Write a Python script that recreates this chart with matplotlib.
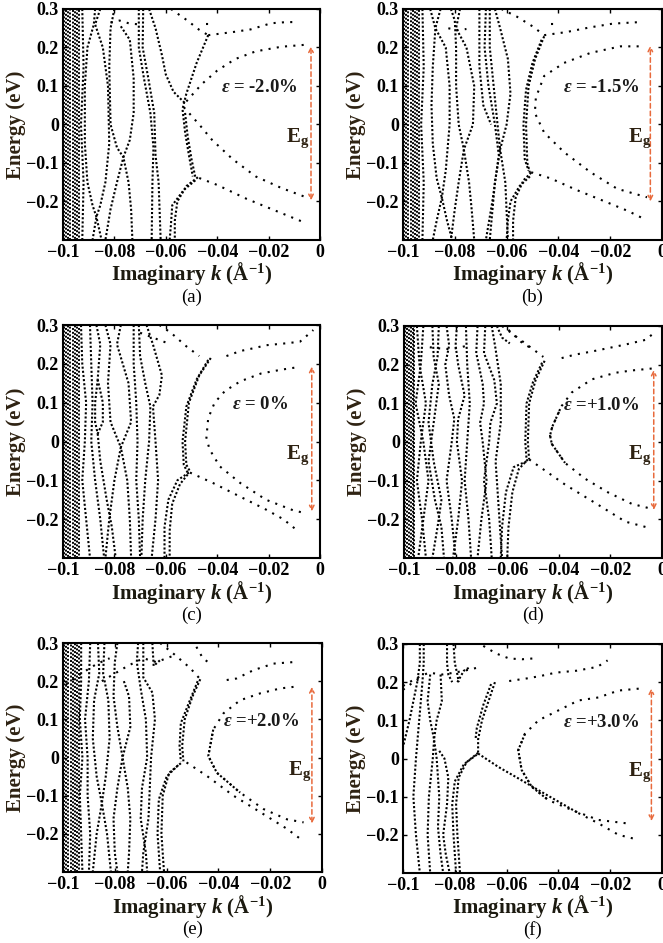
import matplotlib
matplotlib.use("Agg")
import matplotlib.pyplot as plt

plt.rcParams['font.family'] = ['Liberation Serif', 'DejaVu Serif']
plt.rcParams['mathtext.fontset'] = 'custom'
plt.rcParams['mathtext.rm'] = 'Liberation Serif:bold'
plt.rcParams['mathtext.it'] = 'Liberation Serif:italic:bold'
plt.rcParams['mathtext.bf'] = 'Liberation Serif:bold'

# ---------------- data (Imaginary k in 1/A, Energy in eV) ----------------
letters = ['(a)', '(b)', '(c)', '(d)', '(e)', '(f)']
strains = [r'$\varepsilon$ = -2.0%', r'$\varepsilon$ = -1.5%', r'$\varepsilon$ = 0%',
           r'$\varepsilon$ =+1.0%', r'$\varepsilon$ =+2.0%', r'$\varepsilon$ =+3.0%']
eg_k = [-0.0035, -0.0045, -0.0032, -0.0032, -0.0039, -0.0041]
eg_top = [0.203, 0.205, 0.193, 0.187, 0.185, 0.184]
eg_bottom = [-0.197, -0.200, -0.180, -0.176, -0.173, -0.164]

xticks = [-0.1, -0.08, -0.06, -0.04, -0.02, 0]
xticklabels = ['\u22120.1', '\u22120.08', '\u22120.06', '\u22120.04', '\u22120.02', '0']
yticks = [-0.2, -0.1, 0, 0.1, 0.2, 0.3]
yticklabels = ['\u22120.2', '\u22120.1', '0', '0.1', '0.2', '0.3']

# (a) eps = -2.0%
a_block = [-0.0995, -0.0987, -0.0979, -0.0971, -0.0963, -0.0955, -0.0947, -0.0939]
a_dense = [
    [(-0.0875, 0.3), (-0.088, 0.26), (-0.0905, 0.2), (-0.0915, 0.1), (-0.0915, -0.05), (-0.0905, -0.15), (-0.0885, -0.21), (-0.087, -0.24), (-0.085, -0.3)],
    [(-0.0855, 0.3), (-0.0875, 0.26), (-0.0845, 0.2), (-0.0825, 0.1), (-0.082, -0.05), (-0.0835, -0.15), (-0.0855, -0.21), (-0.087, -0.24), (-0.0885, -0.3)],
    [(-0.080, 0.3), (-0.0815, 0.25), (-0.082, 0.15), (-0.0815, 0.0), (-0.079, -0.06), (-0.0765, -0.085), (-0.079, -0.15), (-0.0815, -0.22), (-0.0835, -0.3)],
    [(-0.0775, 0.255), (-0.074, 0.22), (-0.0725, 0.12), (-0.0725, 0.03), (-0.074, -0.04), (-0.0765, -0.085), (-0.0745, -0.15), (-0.0735, -0.22), (-0.073, -0.3)],
    [(-0.0705, 0.3), (-0.0705, 0.2), (-0.0685, 0.12), (-0.066, 0.03), (-0.0648, -0.06), (-0.0652, -0.15), (-0.0655, -0.3)],
    [(-0.0688, 0.3), (-0.069, 0.2), (-0.0668, 0.12), (-0.0645, 0.03), (-0.064, -0.08), (-0.0628, -0.15), (-0.062, -0.3)],
    [(-0.0665, 0.3), (-0.064, 0.25), (-0.0615, 0.18), (-0.060, 0.13), (-0.057, 0.085), (-0.0525, 0.055)],
    [(-0.0435, 0.232), (-0.048, 0.16), (-0.052, 0.08), (-0.0535, 0.04), (-0.0525, -0.02), (-0.051, -0.08), (-0.0495, -0.135)],
    [(-0.0525, 0.03), (-0.0515, -0.03), (-0.050, -0.09), (-0.0485, -0.137)],
    [(-0.0475, -0.137), (-0.052, -0.16), (-0.0555, -0.2), (-0.0565, -0.25), (-0.0565, -0.3)],
    [(-0.0485, -0.145), (-0.053, -0.17), (-0.0575, -0.21), (-0.058, -0.26), (-0.0585, -0.3)],
    [(-0.0925, 0.3), (-0.092, 0.15), (-0.093, 0.0), (-0.092, -0.15), (-0.0925, -0.3)],
]
a_sparse = [
    [(-0.052, 0.06), (-0.046, 0.105), (-0.040, 0.14), (-0.033, 0.17), (-0.025, 0.19), (-0.015, 0.202), (-0.004, 0.208)],
    [(-0.053, 0.045), (-0.047, 0.0), (-0.042, -0.04), (-0.034, -0.09), (-0.025, -0.135), (-0.015, -0.165), (-0.005, -0.19)],
    [(-0.047, -0.139), (-0.040, -0.157), (-0.0286, -0.193), (-0.018, -0.222), (-0.007, -0.252)],
    [(-0.058, 0.3), (-0.052, 0.272), (-0.047, 0.246), (-0.0435, 0.232)],
    [(-0.0435, 0.232), (-0.034, 0.24), (-0.027, 0.247), (-0.019, 0.263), (-0.013, 0.266), (-0.009, 0.266)],
    [(-0.0815, 0.265), (-0.078, 0.27), (-0.074, 0.262), (-0.070, 0.26)],
    [(-0.0445, 0.262), (-0.0415, 0.262)],
]

# (b) eps = -1.5%
b_block = [-0.0995, -0.0987, -0.0979, -0.0971, -0.0963, -0.0955, -0.0947, -0.0939]
b_dense = [
    [(-0.0895, 0.3), (-0.0875, 0.25), (-0.0885, 0.15), (-0.089, 0.05), (-0.0885, -0.05), (-0.087, -0.14), (-0.085, -0.19), (-0.083, -0.25), (-0.081, -0.3)],
    [(-0.0855, 0.3), (-0.0875, 0.25), (-0.0835, 0.2), (-0.082, 0.1), (-0.082, 0.0), (-0.0835, -0.12), (-0.085, -0.19), (-0.087, -0.25), (-0.0885, -0.3)],
    [(-0.0815, 0.3), (-0.080, 0.27), (-0.0795, 0.2), (-0.0795, 0.1), (-0.0785, 0.0), (-0.0765, -0.065), (-0.0785, -0.15), (-0.080, -0.22), (-0.0815, -0.3)],
    [(-0.078, 0.3), (-0.0795, 0.25), (-0.0755, 0.2), (-0.0725, 0.1), (-0.073, 0.0), (-0.0765, -0.065), (-0.0745, -0.15), (-0.0735, -0.22), (-0.0725, -0.3)],
    [(-0.0705, 0.3), (-0.0705, 0.15), (-0.069, 0.05), (-0.066, 0.0)],
    [(-0.0665, 0.3), (-0.0665, 0.2), (-0.065, 0.1), (-0.0635, 0.0), (-0.0625, -0.065), (-0.0645, -0.15), (-0.0665, -0.3)],
    [(-0.0645, 0.3), (-0.0625, 0.25), (-0.0595, 0.17), (-0.0585, 0.08), (-0.060, 0.0), (-0.0625, -0.065), (-0.0605, -0.15), (-0.0595, -0.3)],
    [(-0.068, 0.3), (-0.0685, 0.2), (-0.067, 0.1), (-0.0645, 0.0), (-0.063, -0.08), (-0.0655, -0.2), (-0.068, -0.3)],
    [(-0.0455, 0.229), (-0.049, 0.17), (-0.0515, 0.1), (-0.0525, 0.0), (-0.052, -0.1), (-0.051, -0.125)],
    [(-0.0465, 0.22), (-0.050, 0.16), (-0.0525, 0.09), (-0.0535, 0.0), (-0.053, -0.09), (-0.0515, -0.12)],
    [(-0.0505, -0.125), (-0.0535, -0.145), (-0.0565, -0.19), (-0.0575, -0.25), (-0.0575, -0.3)],
    [(-0.051, -0.135), (-0.055, -0.16), (-0.0585, -0.2), (-0.0595, -0.25), (-0.060, -0.3)],
    [(-0.0925, 0.3), (-0.092, 0.15), (-0.093, 0.0), (-0.092, -0.15), (-0.0925, -0.3)],
]
b_sparse = [
    [(-0.009, 0.203), (-0.016, 0.203), (-0.0276, 0.186), (-0.0378, 0.16), (-0.0455, 0.126), (-0.0487, 0.07),
     (-0.0491, 0.03), (-0.0455, -0.021), (-0.0378, -0.072), (-0.0276, -0.124), (-0.0173, -0.167), (-0.0058, -0.189)],
    [(-0.0505, -0.124), (-0.043, -0.14), (-0.033, -0.17), (-0.022, -0.2), (-0.013, -0.225), (-0.007, -0.245)],
    [(-0.062, 0.3), (-0.056, 0.28), (-0.050, 0.255), (-0.0455, 0.232)],
    [(-0.0455, 0.232), (-0.037, 0.24), (-0.028, 0.252), (-0.019, 0.262), (-0.0085, 0.266)],
    [(-0.0825, 0.25), (-0.079, 0.245), (-0.0755, 0.248)],
    [(-0.043, 0.262), (-0.041, 0.262)],
]

# (c) eps = 0%
c_block = [-0.0995, -0.0987, -0.0979, -0.0971, -0.0963, -0.0955, -0.0947, -0.0939]
c_dense = [
    [(-0.093, 0.3), (-0.0925, 0.2), (-0.091, 0.1), (-0.0915, 0.0), (-0.0925, -0.1), (-0.091, -0.2), (-0.0895, -0.3)],
    [(-0.0895, 0.3), (-0.089, 0.2), (-0.0885, 0.1), (-0.089, 0.0), (-0.0875, -0.1), (-0.0855, -0.2), (-0.084, -0.3)],
    [(-0.0865, 0.16), (-0.0875, 0.1), (-0.0875, 0.05), (-0.0865, 0.02)],
    [(-0.0865, 0.16), (-0.0845, 0.1), (-0.0845, 0.05), (-0.0865, 0.02)],
    [(-0.087, 0.3), (-0.0855, 0.25), (-0.0865, 0.16)],
    [(-0.0865, 0.02), (-0.0855, -0.05), (-0.083, -0.15), (-0.081, -0.22), (-0.0795, -0.3)],
    [(-0.0835, 0.3), (-0.0815, 0.25), (-0.0825, 0.15), (-0.0815, 0.05), (-0.0775, -0.015), (-0.080, -0.1), (-0.082, -0.2), (-0.0835, -0.3)],
    [(-0.0775, 0.3), (-0.079, 0.25), (-0.0745, 0.15), (-0.0735, 0.05), (-0.0775, -0.015), (-0.075, -0.1), (-0.074, -0.2), (-0.0735, -0.3)],
    [(-0.0725, 0.3), (-0.0725, 0.2), (-0.0715, 0.1), (-0.071, 0.0), (-0.0715, -0.1), (-0.0705, -0.2), (-0.070, -0.3)],
    [(-0.0705, 0.3), (-0.070, 0.22), (-0.068, 0.15), (-0.066, 0.09), (-0.0665, 0.0), (-0.068, -0.1), (-0.069, -0.2), (-0.0695, -0.3)],
    [(-0.0675, 0.3), (-0.065, 0.25), (-0.0615, 0.17), (-0.0625, 0.12), (-0.065, 0.09), (-0.064, 0.0), (-0.063, -0.1), (-0.064, -0.2), (-0.0655, -0.3)],
    [(-0.0425, 0.215), (-0.047, 0.17), (-0.051, 0.1), (-0.0525, 0.0), (-0.052, -0.06), (-0.0505, -0.078)],
    [(-0.0435, 0.21), (-0.048, 0.16), (-0.052, 0.09), (-0.0535, 0.0), (-0.053, -0.06), (-0.0515, -0.08)],
    [(-0.051, -0.08), (-0.0555, -0.1), (-0.059, -0.15), (-0.0605, -0.22), (-0.0605, -0.3)],
    [(-0.0515, -0.085), (-0.0545, -0.11), (-0.0575, -0.16), (-0.0585, -0.23), (-0.0585, -0.3)],
]
c_sparse = [
    [(-0.010, 0.19), (-0.015, 0.185), (-0.023, 0.175), (-0.031, 0.155), (-0.037, 0.13), (-0.041, 0.1), (-0.0435, 0.06),
     (-0.0442, 0.01), (-0.043, -0.02), (-0.039, -0.064), (-0.031, -0.107), (-0.021, -0.15), (-0.0105, -0.177), (-0.0055, -0.185)],
    [(-0.0506, -0.08), (-0.0416, -0.107), (-0.0338, -0.133), (-0.0208, -0.176), (-0.0143, -0.2), (-0.0085, -0.231)],
    [(-0.0625, 0.3), (-0.058, 0.28), (-0.052, 0.245), (-0.047, 0.22)],
    [(-0.0364, 0.22), (-0.031, 0.233), (-0.026, 0.24), (-0.0208, 0.248), (-0.013, 0.253), (-0.0078, 0.257), (-0.0026, 0.287)],
    [(-0.070, 0.28), (-0.064, 0.265), (-0.058, 0.25)],
]

# (d) eps = +1.0%
d_block = [-0.0995, -0.0988, -0.0981, -0.0974, -0.0967, -0.0960]
d_dense = [
    [(-0.095, 0.3), (-0.094, 0.2), (-0.0915, 0.1), (-0.0935, 0.0), (-0.095, -0.1), (-0.093, -0.2), (-0.0915, -0.3)],
    [(-0.0925, 0.3), (-0.0935, 0.2), (-0.0955, 0.1), (-0.0925, 0.0), (-0.0905, -0.1), (-0.0925, -0.2), (-0.0945, -0.3)],
    [(-0.089, 0.3), (-0.0885, 0.22), (-0.0865, 0.15), (-0.0885, 0.05), (-0.0905, -0.05), (-0.088, -0.15), (-0.0855, -0.22), (-0.0845, -0.3)],
    [(-0.0865, 0.3), (-0.087, 0.22), (-0.089, 0.15), (-0.0905, 0.05), (-0.0885, -0.05), (-0.0855, -0.15), (-0.087, -0.22), (-0.089, -0.3)],
    [(-0.0835, 0.3), (-0.0825, 0.25), (-0.084, 0.2), (-0.0825, 0.12), (-0.0805, 0.06), (-0.0815, 0.0), (-0.0835, -0.1), (-0.0815, -0.2), (-0.080, -0.3)],
    [(-0.0795, 0.3), (-0.080, 0.25), (-0.079, 0.2), (-0.0765, 0.12), (-0.079, 0.06), (-0.0795, 0.0), (-0.0775, -0.1), (-0.079, -0.2), (-0.081, -0.3)],
    [(-0.076, 0.3), (-0.0755, 0.2), (-0.0745, 0.1), (-0.0755, 0.0), (-0.0765, -0.1), (-0.075, -0.2), (-0.074, -0.3)],
    [(-0.0715, 0.3), (-0.072, 0.23), (-0.0695, 0.15), (-0.069, 0.1), (-0.0705, 0.05), (-0.0695, 0.0), (-0.068, -0.1), (-0.070, -0.2), (-0.0715, -0.3)],
    [(-0.0685, 0.3), (-0.069, 0.23), (-0.065, 0.16), (-0.064, 0.1), (-0.0665, 0.05), (-0.067, 0.0), (-0.069, -0.1), (-0.067, -0.2), (-0.066, -0.3)],
    [(-0.066, 0.3), (-0.0645, 0.24), (-0.0625, 0.15), (-0.0625, 0.05), (-0.0645, -0.05), (-0.063, -0.2), (-0.062, -0.3)],
    [(-0.064, 0.3), (-0.062, 0.27), (-0.059, 0.255)],
    [(-0.0455, 0.21), (-0.049, 0.16), (-0.0515, 0.1), (-0.052, 0.0), (-0.0515, -0.045)],
    [(-0.0465, 0.205), (-0.050, 0.155), (-0.0525, 0.1), (-0.053, 0.0), (-0.0525, -0.045)],
    [(-0.052, -0.045), (-0.0555, -0.07), (-0.058, -0.13), (-0.0595, -0.22), (-0.060, -0.3)],
    [(-0.0525, -0.05), (-0.0575, -0.065), (-0.0605, -0.13), (-0.062, -0.22), (-0.0625, -0.3)],
    [(-0.0395, 0.085), (-0.0425, 0.04), (-0.0434, 0.017), (-0.0427, -0.005), (-0.0376, -0.054)],
]
d_sparse = [
    [(-0.004, 0.19), (-0.0117, 0.185), (-0.0181, 0.179), (-0.0272, 0.162), (-0.035, 0.128), (-0.0389, 0.093), (-0.0425, 0.04),
     (-0.0434, 0.017), (-0.0427, -0.005), (-0.0376, -0.054), (-0.0298, -0.095), (-0.021, -0.13), (-0.0117, -0.16), (-0.0045, -0.172)],
    [(-0.0515, -0.045), (-0.0376, -0.11), (-0.0246, -0.163), (-0.0142, -0.206), (-0.0045, -0.223)],
    [(-0.062, 0.3), (-0.057, 0.275), (-0.051, 0.245), (-0.046, 0.22)],
    [(-0.0389, 0.217), (-0.0337, 0.226), (-0.0272, 0.234), (-0.0207, 0.243), (-0.0142, 0.252), (-0.0065, 0.264), (-0.004, 0.277)],
    [(-0.090, 0.245), (-0.086, 0.242), (-0.082, 0.24), (-0.078, 0.245), (-0.075, 0.25)],
    [(-0.0595, 0.29), (-0.054, 0.255), (-0.050, 0.24)],
]

# (e) eps = +2.0%
e_block = [-0.0995, -0.0987, -0.0979, -0.0971, -0.0963, -0.0955, -0.0947, -0.0939]
e_dense = [
    [(-0.093, 0.3), (-0.093, 0.2), (-0.0935, 0.1), (-0.0925, 0.0), (-0.0935, -0.1), (-0.093, -0.2), (-0.0925, -0.3)],
    [(-0.0895, 0.3), (-0.090, 0.2), (-0.0915, 0.1), (-0.0905, 0.0), (-0.0905, -0.1), (-0.0895, -0.2), (-0.090, -0.3)],
    [(-0.0865, 0.3), (-0.086, 0.22), (-0.088, 0.15), (-0.0885, 0.05), (-0.087, -0.05), (-0.085, -0.12), (-0.087, -0.2), (-0.0885, -0.3)],
    [(-0.084, 0.3), (-0.0845, 0.22), (-0.0825, 0.15), (-0.082, 0.05), (-0.0835, -0.05), (-0.085, -0.12), (-0.083, -0.2), (-0.0815, -0.3)],
    [(-0.079, 0.3), (-0.080, 0.25), (-0.0805, 0.16), (-0.079, 0.08), (-0.077, 0.0), (-0.079, -0.08), (-0.0805, -0.16), (-0.080, -0.25), (-0.079, -0.3)],
    [(-0.0765, 0.2), (-0.0745, 0.16), (-0.074, 0.08), (-0.077, 0.0), (-0.075, -0.08), (-0.074, -0.16), (-0.0745, -0.25), (-0.075, -0.3)],
    [(-0.071, 0.3), (-0.0715, 0.25), (-0.070, 0.18), (-0.068, 0.1), (-0.0675, 0.0), (-0.0695, -0.08), (-0.070, -0.16), (-0.068, -0.25), (-0.0675, -0.3)],
    [(-0.069, 0.3), (-0.069, 0.21), (-0.0655, 0.17), (-0.0645, 0.1), (-0.066, 0.0), (-0.0665, -0.08), (-0.067, -0.16), (-0.069, -0.25), (-0.0695, -0.3)],
    [(-0.0655, 0.3), (-0.065, 0.24), (-0.0625, 0.255)],
    [(-0.047, 0.205), (-0.050, 0.16), (-0.053, 0.1), (-0.054, 0.03), (-0.0535, -0.01)],
    [(-0.048, 0.2), (-0.051, 0.15), (-0.0545, 0.09), (-0.055, 0.03), (-0.0545, -0.01)],
    [(-0.0545, -0.015), (-0.059, -0.04), (-0.0615, -0.1), (-0.062, -0.2), (-0.061, -0.3)],
    [(-0.0555, -0.02), (-0.060, -0.05), (-0.063, -0.11), (-0.0635, -0.2), (-0.0625, -0.3)],
    [(-0.042, 0.073), (-0.0439, 0.004), (-0.0406, -0.04), (-0.0316, -0.092)],
]
e_sparse = [
    [(-0.011, 0.185), (-0.0161, 0.181), (-0.0239, 0.168), (-0.0316, 0.15), (-0.038, 0.116), (-0.042, 0.073), (-0.0439, 0.004),
     (-0.0406, -0.04), (-0.0316, -0.092), (-0.0226, -0.135), (-0.0135, -0.162), (-0.0071, -0.17)],
    [(-0.0523, -0.013), (-0.0445, -0.048), (-0.0342, -0.1), (-0.0239, -0.143), (-0.0135, -0.187), (-0.0084, -0.213)],
    [(-0.0625, 0.3), (-0.057, 0.27), (-0.051, 0.235), (-0.047, 0.205)],
    [(-0.0485, 0.29), (-0.046, 0.26), (-0.044, 0.25)],
    [(-0.0368, 0.203), (-0.033, 0.207), (-0.0264, 0.229), (-0.0187, 0.246), (-0.011, 0.25)],
    [(-0.099, 0.19), (-0.093, 0.22), (-0.087, 0.245), (-0.082, 0.26)],
    [(-0.085, 0.2), (-0.080, 0.22), (-0.075, 0.24), (-0.069, 0.26), (-0.064, 0.25), (-0.058, 0.265)],
]

# (f) eps = +3.0%
f_block = []
f_dense = [
    [(-0.0935, 0.3), (-0.0935, 0.25), (-0.0945, 0.2), (-0.0975, 0.1), (-0.100, 0.03)],
    [(-0.092, 0.3), (-0.092, 0.25), (-0.0925, 0.2), (-0.0935, 0.12), (-0.095, 0.0), (-0.096, -0.1), (-0.095, -0.2), (-0.0935, -0.3)],
    [(-0.0895, 0.22), (-0.0905, 0.15), (-0.0895, 0.1), (-0.088, 0.05), (-0.0885, 0.0), (-0.090, -0.1), (-0.0905, -0.2), (-0.0895, -0.3)],
    [(-0.0855, 0.22), (-0.085, 0.15), (-0.087, 0.1), (-0.088, 0.05), (-0.087, 0.0), (-0.086, -0.1), (-0.0865, -0.18), (-0.0855, -0.25), (-0.0845, -0.3)],
    [(-0.086, 0.02), (-0.084, 0.0), (-0.0825, -0.05), (-0.083, -0.12), (-0.0845, -0.2), (-0.0835, -0.25), (-0.082, -0.3)],
    [(-0.083, 0.3), (-0.083, 0.25), (-0.0825, 0.22), (-0.081, 0.2)],
    [(-0.0805, 0.3), (-0.080, 0.25), (-0.079, 0.22), (-0.0785, 0.2)],
    [(-0.079, 0.2), (-0.0765, 0.23), (-0.074, 0.24)],
    [(-0.0645, 0.2), (-0.067, 0.15), (-0.0695, 0.1), (-0.071, 0.05), (-0.071, 0.015)],
    [(-0.066, 0.195), (-0.069, 0.14), (-0.0715, 0.08), (-0.072, 0.05)],
    [(-0.071, 0.015), (-0.0755, -0.01), (-0.0785, -0.05), (-0.0795, -0.12), (-0.079, -0.2), (-0.078, -0.3)],
    [(-0.0715, 0.01), (-0.0765, -0.015), (-0.080, -0.06), (-0.081, -0.12), (-0.0805, -0.2), (-0.0795, -0.3)],
    [(-0.071, 0.013), (-0.0632, -0.022), (-0.0555, -0.052), (-0.0477, -0.083), (-0.040, -0.113), (-0.0323, -0.143)],
    [(-0.0529, 0.065), (-0.0555, 0.022), (-0.0542, -0.03), (-0.0503, -0.074), (-0.0439, -0.109)],
]
f_sparse = [
    [(-0.009, 0.183), (-0.0168, 0.178), (-0.0245, 0.16), (-0.0323, 0.152), (-0.040, 0.126), (-0.0477, 0.1), (-0.0529, 0.065),
     (-0.0555, 0.022), (-0.0542, -0.03), (-0.0503, -0.074), (-0.0439, -0.109), (-0.0348, -0.135), (-0.0245, -0.161), (-0.0135, -0.17)],
    [(-0.0323, -0.143), (-0.0245, -0.17), (-0.0168, -0.2), (-0.0103, -0.211)],
    [(-0.069, 0.295), (-0.064, 0.275), (-0.059, 0.262), (-0.054, 0.26), (-0.050, 0.262)],
    [(-0.059, 0.203), (-0.052, 0.21), (-0.047, 0.216), (-0.041, 0.225), (-0.033, 0.23), (-0.025, 0.24), (-0.021, 0.257)],
    [(-0.100, 0.19), (-0.095, 0.21), (-0.090, 0.225), (-0.085, 0.22), (-0.080, 0.225), (-0.075, 0.232), (-0.070, 0.24)],
    [(-0.100, 0.18), (-0.096, 0.2), (-0.092, 0.215)],
]

blocks = [a_block, b_block, c_block, d_block, e_block, f_block]
dense = [a_dense, b_dense, c_dense, d_dense, e_dense, f_dense]
sparse = [a_sparse, b_sparse, c_sparse, d_sparse, e_sparse, f_sparse]

# ---------------- layout (pixels in a 663x943 canvas) ----------------
W, H = 663, 943
boxes = [(63, 9, 320, 240), (403, 9, 662, 240),
         (63, 325, 320, 558), (404, 326, 662, 558),
         (63, 643, 322, 872), (403, 644, 662, 873)]

fig = plt.figure(figsize=(W / 100, H / 100), dpi=100)
label_col = '#2e2212'
arrow_col = '#e86a3c'
dot = (1, 1.0)

for i, (x0, y0, x1, y1) in enumerate(boxes):
    ax = fig.add_axes([x0 / W, 1 - y1 / H, (x1 - x0) / W, (y1 - y0) / H])
    E_MIN, E_MAX = -0.3, 0.3
    # dense column of bands near the zone edge; stagger dot phase
    for j, k in enumerate(blocks[i]):
        ax.plot([k, k], [E_MIN, E_MAX], color='k', lw=1.4,
                linestyle=((j % 3) * 0.7, dot))
    for c in dense[i]:
        ks, es = zip(*c)
        ax.plot(ks, es, color='k', lw=1.5, linestyle=(0, dot))
    for c in sparse[i]:
        ks, es = zip(*c)
        ax.plot(ks, es, color='k', lw=1.5, linestyle=(0, (1, 3.0)))

    ax.annotate('', xy=(eg_k[i], eg_top[i]), xytext=(eg_k[i], eg_bottom[i]),
                arrowprops=dict(arrowstyle='<->', color=arrow_col, lw=1.1,
                                linestyle=(0, (3, 2)), shrinkA=0, shrinkB=0,
                                mutation_scale=8))
    ax.text(-0.0235, 0.095, strains[i], fontsize=13.5, fontweight='bold',
            ha='center', va='center', color='#1a1a1a')
    ax.text(-0.0088, -0.035, r'E$_{\mathbf{g}}$', fontsize=15, fontweight='bold',
            ha='center', va='center', color=label_col)

    ax.set_xlim(-0.1, 0)
    ax.set_ylim(E_MIN, E_MAX)
    ax.set_xticks(xticks)
    ax.set_xticklabels(xticklabels)
    ax.set_yticks(yticks)
    ax.set_yticklabels(yticklabels)
    ax.tick_params(direction='in', top=True, right=True, length=3, width=1,
                   labelsize=13, pad=3)
    for lab in ax.get_xticklabels() + ax.get_yticklabels():
        lab.set_fontweight('bold')
    for s in ax.spines.values():
        s.set_linewidth(1.5)

    cx = (x0 + x1) / 2
    fig.text(cx / W, 1 - (y1 + 34) / H, r'Imaginary $k$ (Å$^{-1}$)', fontsize=15,
             fontweight='bold', ha='center', va='center', color='#1c1a10')
    fig.text(cx / W, 1 - (y1 + 57) / H, letters[i], fontsize=13.5,
             ha='center', va='center')
    fig.text((x0 - 47) / W, 1 - ((y0 + y1) / 2) / H, 'Energy (eV)', fontsize=15,
             fontweight='bold', rotation=90, ha='center', va='center', color=label_col)

fig.savefig('out.png', dpi=100)
